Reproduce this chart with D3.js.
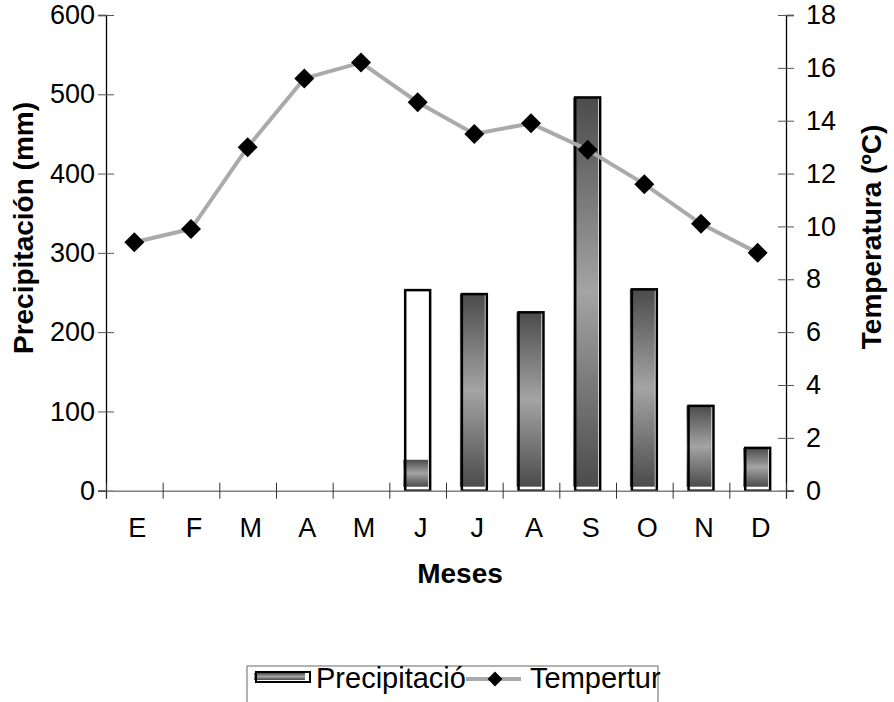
<!DOCTYPE html>
<html>
<head>
<meta charset="utf-8">
<script src="https://cdn.jsdelivr.net/npm/d3@7"></script>
<style>
  body { margin: 0; background: #fff; }
  text { font-family: "Liberation Sans", Arial, sans-serif; fill: #000; }
  .tick text { font-size: 27px; }
  .title { font-size: 28px; font-weight: bold; }
  .legend-text { font-size: 29px; }
</style>
</head>
<body>
<div id="wrapper"></div>
<script>
const months = ["E", "F", "M", "A", "M", "J", "J", "A", "S", "O", "N", "D"]
// bar heights (outline) and the part that shows the gradient fill
const precipitation = [0, 0, 0, 0, 0, 253, 248, 225, 496, 254, 107, 54]
const precipShaded = [0, 0, 0, 0, 0, 39, 248, 225, 496, 254, 107, 54]
const temperature = [9.4, 9.9, 13.0, 15.6, 16.2, 14.7, 13.5, 13.9, 12.9, 11.6, 10.1, 9.0]
const precipTicks = [0, 100, 200, 300, 400, 500, 600]
const tempTicks = [0, 2, 4, 6, 8, 10, 12, 14, 16, 18]

function drawChart() {

  // 1. Dimensions

  const dimensions = {
    width: 894,
    height: 702,
    left: 106,
    right: 786,
    top: 15,
    bottom: 490.7,
  }

  // 2. Canvas

  const svg = d3.select("#wrapper")
    .append("svg")
      .attr("width", dimensions.width)
      .attr("height", dimensions.height)

  const defs = svg.append("defs")
  const grad = defs.append("linearGradient")
      .attr("id", "barGrad")
      .attr("x1", 0).attr("y1", 0).attr("x2", 0).attr("y2", 1)
  grad.append("stop").attr("offset", "0%").attr("stop-color", "#4b4b4b")
  grad.append("stop").attr("offset", "50%").attr("stop-color", "#a4a4a4")
  grad.append("stop").attr("offset", "100%").attr("stop-color", "#4b4b4b")

  // 3. Scales

  const idx = d3.range(months.length)
  const x = d3.scaleBand()
    .domain(idx)
    .range([dimensions.left, dimensions.right])
    .paddingInner(0.56)
    .paddingOuter(0.28)
  const xEdge = d3.scaleLinear()
    .domain([0, months.length])
    .range([dimensions.left, dimensions.right])
  const yP = d3.scaleLinear()
    .domain([0, 600])
    .range([dimensions.bottom, dimensions.top])
  const yT = d3.scaleLinear()
    .domain([0, 18])
    .range([dimensions.bottom, dimensions.top])

  // 4. Bars

  const bars = svg.append("g")
  const withRain = idx.filter(i => precipitation[i] > 0)

  bars.selectAll(".shade")
    .data(withRain)
    .join("rect")
      .attr("x", i => x(i) - 2)
      .attr("y", i => yP(precipShaded[i]))
      .attr("width", x.bandwidth())
      .attr("height", i => yP(0) - 4 - yP(precipShaded[i]))
      .attr("fill", "url(#barGrad)")

  bars.selectAll(".outline")
    .data(withRain)
    .join("rect")
      .attr("x", i => x(i))
      .attr("y", i => yP(precipitation[i]))
      .attr("width", x.bandwidth())
      .attr("height", i => yP(0) - yP(precipitation[i]))
      .attr("fill", "none")
      .attr("stroke", "#000")
      .attr("stroke-width", 2.5)

  // 5. Axes

  const leftAxis = svg.append("g")
      .attr("transform", `translate(${dimensions.left},0)`)
      .call(d3.axisLeft(yP).tickValues(precipTicks).tickSize(8).tickPadding(3))
  leftAxis.selectAll(".tick line").attr("x2", 8).attr("x1", -8).attr("stroke", "#555")

  const rightAxis = svg.append("g")
      .attr("transform", `translate(${dimensions.right},0)`)
      .call(d3.axisRight(yT).tickValues(tempTicks).tickSize(8).tickPadding(12))
  rightAxis.selectAll(".tick line").attr("x1", -8).attr("x2", 8).attr("stroke", "#555")

  const bottomTicks = svg.append("g")
      .attr("transform", `translate(0,${dimensions.bottom})`)
      .call(d3.axisBottom(xEdge).tickValues(d3.range(months.length + 1)).tickSize(8).tickFormat(""))
  bottomTicks.selectAll(".tick line").attr("y1", -8).attr("y2", 8).attr("stroke", "#333")
  bottomTicks.select(".domain").attr("stroke", "#808080").attr("stroke-width", 1.5)

  const bottomLabels = svg.append("g")
      .attr("transform", `translate(0,${dimensions.bottom})`)
      .call(d3.axisBottom(x).tickSize(0).tickPadding(27).tickFormat(i => months[i]))
  bottomLabels.select(".domain").remove()
  bottomLabels.selectAll(".tick text").attr("dx", 3)

  svg.selectAll(".domain").filter(function() { return this.parentNode !== bottomTicks.node() })
      .attr("stroke", "#000").attr("stroke-width", 1.3)
  svg.selectAll("g").attr("font-family", null).attr("font-size", null)

  // 6. Temperature line

  const lineGenerator = d3.line()
    .x(i => x(i) + x.bandwidth() / 2)
    .y(i => yT(temperature[i]))

  svg.append("path")
      .datum(idx)
      .attr("d", lineGenerator)
      .attr("fill", "none")
      .attr("stroke", "#aaaaaa")
      .attr("stroke-width", 4)

  const diamond = d3.symbol().type(d3.symbolSquare).size(200)
  svg.selectAll(".marker")
    .data(idx)
    .join("path")
      .attr("d", diamond)
      .attr("fill", "#000")
      .attr("transform", i => `translate(${x(i) + x.bandwidth() / 2},${yT(temperature[i])}) rotate(45)`)

  // 7. Titles

  svg.append("text")
      .attr("class", "title")
      .attr("text-anchor", "middle")
      .attr("transform", "translate(33,228) rotate(-90)")
      .text("Precipitación (mm)")

  svg.append("text")
      .attr("class", "title")
      .attr("text-anchor", "middle")
      .attr("transform", "translate(881,237) rotate(-90)")
      .text("Temperatura (ºC)")

  svg.append("text")
      .attr("class", "title")
      .attr("text-anchor", "middle")
      .attr("x", 460)
      .attr("y", 583)
      .text("Meses")

  // 8. Legend

  const legend = svg.append("g")
  legend.append("rect")
      .attr("x", 247).attr("y", 666)
      .attr("width", 411).attr("height", 60)
      .attr("fill", "#fff")
      .attr("stroke", "#808080")
      .attr("stroke-width", 1.2)
  legend.append("rect")
      .attr("x", 254).attr("y", 673)
      .attr("width", 51).attr("height", 7)
      .attr("fill", "url(#barGrad)")
  legend.append("rect")
      .attr("x", 256).attr("y", 672)
      .attr("width", 54).attr("height", 10)
      .attr("fill", "none")
      .attr("stroke", "#000")
      .attr("stroke-width", 2)
  legend.append("text")
      .attr("class", "legend-text")
      .attr("x", 316).attr("y", 688)
      .text("Precipitació")
  legend.append("line")
      .attr("x1", 466).attr("x2", 521)
      .attr("y1", 679).attr("y2", 679)
      .attr("stroke", "#aaaaaa")
      .attr("stroke-width", 4)
  legend.append("path")
      .attr("d", d3.symbol().type(d3.symbolSquare).size(110))
      .attr("fill", "#000")
      .attr("transform", "translate(495,679) rotate(45)")
  legend.append("text")
      .attr("class", "legend-text")
      .attr("x", 530).attr("y", 688)
      .text("Tempertur")
}
drawChart()
</script>
</body>
</html>
